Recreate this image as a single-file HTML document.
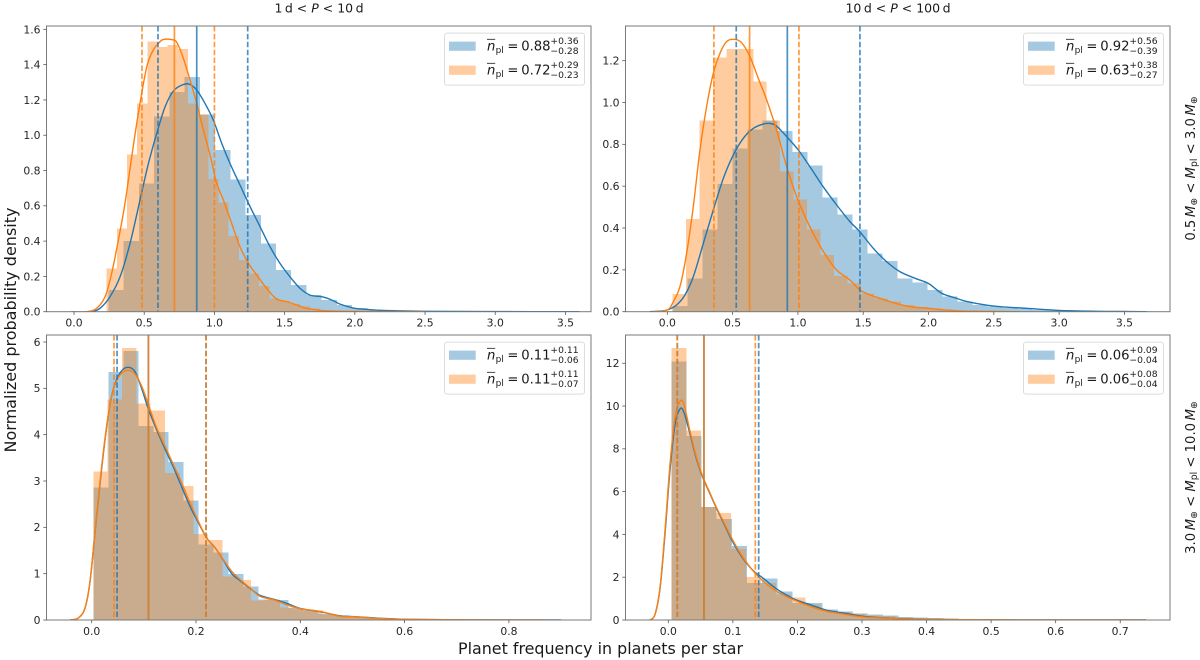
<!DOCTYPE html>
<html lang="en">
<head>
<meta charset="utf-8">
<title>Planet frequency posterior distributions</title>
<style>
html,body{margin:0;padding:0;background:#fff;}
svg{display:block;font-family:"DejaVu Sans","Liberation Sans",sans-serif;}
</style>
</head>
<body>
<svg id="chart" xmlns="http://www.w3.org/2000/svg" width="1200" height="660" viewBox="0 0 1200 660">
  <text transform="translate(16,330) rotate(-90)" text-anchor="middle" font-size="16" fill="#1a1a1a">Normalized probability density</text>
  <text x="600.5" y="654" text-anchor="middle" font-size="15.9" fill="#1a1a1a">Planet frequency in planets per star</text>
  <text x="319" y="12.5" text-anchor="middle" font-size="12.5" fill="#1a1a1a">1&#8201;d &lt; <tspan font-style="italic">P</tspan> &lt; 10&#8201;d</text>
  <text x="898" y="12.5" text-anchor="middle" font-size="12.5" fill="#1a1a1a">10&#8201;d &lt; <tspan font-style="italic">P</tspan> &lt; 100&#8201;d</text>
  <text transform="translate(1195,168.5) rotate(-90)" text-anchor="middle" font-size="13.2" fill="#1a1a1a">0.5&#8201;<tspan font-style="italic">M</tspan><tspan font-size="9.3" dy="2">⊕</tspan><tspan dy="-2"> &lt; </tspan><tspan font-style="italic">M</tspan><tspan font-size="9.3" dy="2">pl</tspan><tspan dy="-2"> &lt; 3.0&#8201;</tspan><tspan font-style="italic">M</tspan><tspan font-size="9.3" dy="2">⊕</tspan></text>
  <text transform="translate(1195,477.5) rotate(-90)" text-anchor="middle" font-size="13.2" fill="#1a1a1a">3.0&#8201;<tspan font-style="italic">M</tspan><tspan font-size="9.3" dy="2">⊕</tspan><tspan dy="-2"> &lt; </tspan><tspan font-style="italic">M</tspan><tspan font-size="9.3" dy="2">pl</tspan><tspan dy="-2"> &lt; 10.0&#8201;</tspan><tspan font-style="italic">M</tspan><tspan font-size="9.3" dy="2">⊕</tspan></text>
</svg>
<script>
// ---------- top-left panel data ----------
const tlBlueHist = [.123,.40,.727,1.105,1.246,1.33,1.118,.916,.75,.548,.387,.236,.151,.094,.066,.038,.02,.013,.008,.005,.003,.002,.001,.001,.0005,.0005,.0003,0,0,.0002];
const tlBlueBin = [.245,.1085];
const tlOrangeHist = [.244,.472,.89,1.18,1.53,1.5,1.51,1.49,1.18,1.118,.752,.618,.43,.293,.217,.145,.076,.06,.045,.03,.018,.01,.006,.003,.002,.001];
const tlOrangeBin = [.233,.0724];
const tlBlueKdeX = [.09,.126,.185,.256,.328,.399,.47,.53,.589,.648,.707,.767,.819,.874,.933,.992,1.052,1.111,1.182,1.254,1.325,1.396,1.467,1.538,1.61,1.681,1.776,1.847,1.895,2.0,2.1,2.2,2.5,3.0,3.6];
const tlBlueKdeY = [0,0,.019,.085,.198,.387,.633,.84,1.01,1.16,1.25,1.284,1.29,1.256,1.18,1.086,.954,.84,.718,.595,.482,.368,.274,.198,.132,.094,.083,.062,.043,.019,.012,.007,.002,.0005,0];
const tlOrangeKdeX = [-.02,.09,.161,.221,.268,.316,.363,.411,.458,.518,.565,.601,.636,.707,.736,.779,.826,.874,.921,.969,1.016,1.064,1.123,1.182,1.242,1.301,1.372,1.443,1.515,1.586,1.657,1.776,2.0,2.3,2.5];
const tlOrangeKdeY = [0,0,.019,.085,.217,.406,.614,.878,1.124,1.388,1.483,1.52,1.543,1.54,1.52,1.435,1.313,1.18,1.03,.888,.727,.633,.5,.368,.274,.208,.132,.072,.057,.038,.019,.006,.002,.0005,0];
const tlBlueQuantiles = [.598,.874,1.237];
const tlOrangeQuantiles = [.484,.715,1.0];
const tlXTicks = [0,.5,1,1.5,2,2.5,3,3.5];
const tlXLabels = ['0.0','0.5','1.0','1.5','2.0','2.5','3.0','3.5'];
const tlYTicks = [0,.2,.4,.6,.8,1,1.2,1.4,1.6];
const tlYLabels = ['0.0','0.2','0.4','0.6','0.8','1.0','1.2','1.4','1.6'];
const tlLegend = [['0.88','+0.36','−0.28'],['0.72','+0.29','−0.23']];

// ---------- top-right panel data ----------
const trBlueHist = [.027,.159,.394,.61,.78,.87,.913,.864,.763,.70,.547,.464,.394,.279,.242,.159,.139,.104,.072,.048,.032,.024,.018,.012,.008,.005,.003,.002,.001,.001];
const trBlueBin = [.041,.1148];
const trOrangeHist = [.084,.443,.913,1.216,1.256,1.256,1.10,.913,.67,.537,.394,.27,.17,.135,.088,.064,.048,.032,.022,.015,.01,.006,.004,.002,.001];
const trOrangeBin = [.041,.1029];
const trBlueKdeX = [-.133,-.056,0,.071,.135,.199,.276,.352,.429,.505,.582,.658,.735,.786,.837,.914,1.003,1.092,1.194,1.297,1.399,1.475,1.577,1.679,1.782,1.9,2.0,2.1,2.2,2.3,2.5,2.75,3.0,3.3,3.5,3.67];
const trBlueKdeY = [0,.003,.008,.032,.08,.167,.327,.486,.637,.749,.829,.876,.897,.9,.887,.837,.773,.693,.597,.51,.43,.382,.303,.239,.191,.159,.135,.088,.067,.048,.027,.016,.006,.002,.001,0];
const trOrangeKdeX = [-.107,0,.046,.097,.148,.199,.25,.301,.352,.403,.454,.51,.569,.633,.697,.761,.837,.914,.99,1.067,1.143,1.22,1.297,1.399,1.475,1.552,1.628,1.73,1.858,2.0,2.2,2.4,2.7];
const trOrangeKdeY = [0,.008,.048,.12,.279,.502,.773,.98,1.139,1.235,1.291,1.302,1.286,1.219,1.115,1.012,.868,.693,.55,.438,.343,.263,.199,.151,.104,.08,.064,.043,.024,.016,.005,.002,0];
const trBlueQuantiles = [.528,.919,1.475];
const trOrangeQuantiles = [.357,.63,1.008];
const trXTicks = [0,.5,1,1.5,2,2.5,3,3.5];
const trXLabels = ['0.0','0.5','1.0','1.5','2.0','2.5','3.0','3.5'];
const trYTicks = [0,.2,.4,.6,.8,1,1.2];
const trYLabels = ['0.0','0.2','0.4','0.6','0.8','1.0','1.2'];
const trLegend = [['0.92','+0.56','−0.39'],['0.63','+0.38','−0.27']];

// ---------- bottom-left panel data ----------
const blBlueHist = [2.863,5.35,5.81,4.19,4.06,3.41,2.576,1.626,1.453,.993,.727,.44,.43,.26,.20,.13,.1,.07,.05,.04,.03,.02,.012,.008,.005,.003,.002,.001,.001,.001];
const blBlueBin = [.0032,.02876];
const blOrangeHist = [3.2,4.76,5.87,4.67,4.52,3.17,2.89,1.856,1.727,.94,.863,.417,.44,.27,.237,.2,.115,.09,.06,.04,.03,.02,.012,.006,.004,.002,.001];
const blOrangeBin = [.0032,.02749];
const blBlueKdeX = [-.0415,-.0256,-.0128,-.0032,.0064,.016,.0256,.035,.0447,.0575,.0703,.0831,.0959,.1087,.1246,.1406,.1566,.1726,.1886,.2045,.2205,.2365,.2525,.2685,.2844,.3036,.3228,.3484,.3739,.3995,.4378,.4762,.5,.55,.6,.7,.9];
const blBlueKdeY = [0,.043,.259,.835,1.9,2.95,3.9,4.65,5.1,5.38,5.453,5.36,4.99,4.55,4.1,3.69,3.3,2.87,2.45,2.1,1.77,1.56,1.29,1.0,.85,.68,.53,.45,.36,.25,.18,.09,.075,.04,.015,.004,0];
const blOrangeKdeX = [-.0415,-.0256,-.0128,-.0032,.0064,.016,.0256,.035,.0447,.0575,.0703,.0831,.0959,.1087,.1246,.1406,.1566,.1726,.1886,.2045,.2205,.2365,.2525,.2685,.2844,.3036,.3228,.3484,.3739,.3995,.4378,.4762,.5,.55,.6,.7,.87];
const blOrangeKdeY = [0,.043,.259,.835,1.914,2.993,3.928,4.647,5.079,5.331,5.388,5.309,5.043,4.647,4.144,3.748,3.353,2.957,2.525,2.129,1.77,1.554,1.302,1.05,.871,.691,.511,.439,.331,.245,.187,.079,.07,.035,.015,.004,0];
const blBlueQuantiles = [.0486,.1087,.2192];
const blOrangeQuantiles = [.0428,.1087,.2192];
const blXTicks = [0,.2,.4,.6,.8];
const blXLabels = ['0.0','0.2','0.4','0.6','0.8'];
const blYTicks = [0,1,2,3,4,5,6];
const blYLabels = ['0','1','2','3','4','5','6'];
const blLegend = [['0.11','+0.11','−0.06'],['0.11','+0.11','−0.07']];

// ---------- bottom-right panel data ----------
const brBlueHist = [12.09,8.6,5.28,4.72,3.46,1.73,1.93,1.34,.79,.79,.48,.4,.3,.25,.2,.15,.12,.09,.06,.04,.03,.02,.012,.008,.005,.003,.002,.001,.001,.001];
const brBlueBin = [.00471,.02344];
const brOrangeHist = [12.72,8.85,5.28,5.0,3.33,2.01,1.73,1.2,1.06,.72,.44,.38,.3,.22,.18,.12,.08,.06,.04,.03,.02,.012,.008,.004,.002,.001];
const brOrangeBin = [.00471,.02313];
const brBlueKdeX = [-.0284,-.0207,-.0129,-.0052,.0026,.0103,.0181,.0243,.0336,.0439,.0542,.0645,.0749,.0878,.1007,.1162,.1317,.1471,.1678,.1936,.2194,.2453,.2711,.302,.333,.364,.4,.45,.5,.6,.74];
const brBlueKdeY = [0,.249,1.45,4.0,7.0,9.1,9.86,9.7,8.7,7.5,6.6,5.9,5.2,4.4,3.6,2.85,2.3,1.95,1.45,1.0,.72,.46,.33,.17,.1,.06,.035,.015,.006,.002,0];
const brOrangeKdeX = [-.0284,-.0207,-.0129,-.0052,.0026,.0103,.0181,.0243,.0336,.0439,.0542,.0645,.0749,.0878,.1007,.1162,.1317,.1471,.1678,.1936,.2194,.2453,.2711,.302,.333,.364,.4,.45,.5,.6,.74];
const brOrangeKdeY = [0,.249,1.496,4.145,7.262,9.444,10.22,10.07,8.82,7.57,6.64,5.94,5.24,4.46,3.68,2.9,2.28,1.81,1.34,.95,.64,.405,.28,.14,.09,.05,.03,.015,.006,.002,0];
const brBlueQuantiles = [.0139,.0552,.14];
const brOrangeQuantiles = [.0139,.0552,.1348];
const brXTicks = [0,.1,.2,.3,.4,.5,.6,.7];
const brXLabels = ['0.0','0.1','0.2','0.3','0.4','0.5','0.6','0.7'];
const brYTicks = [0,2,4,6,8,10,12];
const brYLabels = ['0','2','4','6','8','10','12'];
const brLegend = [['0.06','+0.09','−0.04'],['0.06','+0.08','−0.04']];

// ---------- rendering ----------
const BLUE = '#1f77b4', ORANGE = '#ff7f0e', SVGNS = 'http://www.w3.org/2000/svg';
const root = document.getElementById('chart');

function mk(tag, attrs, parent) {
  const el = document.createElementNS(SVGNS, tag);
  for (const k in attrs) el.setAttribute(k, attrs[k]);
  parent.appendChild(el);
  return el;
}

function smoothPath(pts) {
  let d = 'M' + pts[0][0].toFixed(2) + ' ' + pts[0][1].toFixed(2);
  for (let i = 0; i < pts.length - 1; i++) {
    const p0 = pts[Math.max(0, i - 1)], p1 = pts[i], p2 = pts[i + 1], p3 = pts[Math.min(pts.length - 1, i + 2)];
    const c1x = p1[0] + (p2[0] - p0[0]) / 6, c1y = p1[1] + (p2[1] - p0[1]) / 6;
    const c2x = p2[0] - (p3[0] - p1[0]) / 6, c2y = p2[1] - (p3[1] - p1[1]) / 6;
    d += 'C' + c1x.toFixed(2) + ' ' + c1y.toFixed(2) + ' ' + c2x.toFixed(2) + ' ' + c2y.toFixed(2) + ' ' + p2[0].toFixed(2) + ' ' + p2[1].toFixed(2);
  }
  return d;
}

function drawHist(g, vals, bin, color, sx, sy, baseY, label) {
  vals.forEach(function (v, i) {
    const x0 = sx(bin[0] + i * bin[1]), x1 = sx(bin[0] + (i + 1) * bin[1]), yT = sy(v);
    const r = mk('rect', {x: x0, y: yT, width: x1 - x0, height: baseY - yT, fill: color, 'fill-opacity': .4, 'shape-rendering': 'crispEdges'}, g);
    
    
  });
}

function drawKde(g, xs, ys, color, sx, sy, label) {
  const pts = xs.map(function (x, i) { return [sx(x), sy(ys[i])]; });
  const p = mk('path', {d: smoothPath(pts), fill: 'none', stroke: color, 'stroke-width': 1.4}, g);
  
  
}

function drawQuantiles(g, q, color, sx, top, bottom, label) {
  q.forEach(function (v, i) {
    const attrs = {x1: sx(v), x2: sx(v), y1: top, y2: bottom, stroke: color, 'stroke-width': 1.7, 'stroke-opacity': .8};
    if (i !== 1) attrs['stroke-dasharray'] = '5.5 2.4';
    const l = mk('line', attrs, g);
    
    
  });
}

function drawLegend(g, entries, box) {
  const frame = mk('rect', {x: box.x + .5, y: box.y + .5, width: box.w, height: box.h, rx: 2.5, fill: '#fff', 'fill-opacity': .85, stroke: '#dcdcdc', 'stroke-width': 1}, g);
  
  
  entries.forEach(function (e, i) {
    const color = i === 0 ? BLUE : ORANGE;
    const off = i * 24;
    const col = mk('g', {}, g);
    
    
    mk('rect', {x: box.x + 5, y: box.y + 9 + off, width: 26.7, height: 9.2, fill: color, 'fill-opacity': .4}, col);
    const tx = box.x + 43, base = box.y + 18 + off;
    const t = mk('text', {x: tx, y: base, 'font-size': 13.2, 'font-style': 'italic', fill: '#1a1a1a'}, col);
    t.textContent = 'n';
    mk('line', {x1: tx, x2: tx + 8.2, y1: base - 11.3, y2: base - 11.3, stroke: '#1a1a1a', 'stroke-width': .8}, col);
    const pl = mk('text', {x: tx + 8.6, y: base + 2.3, 'font-size': 9, fill: '#1a1a1a'}, col);
    pl.textContent = 'pl';
    const eq = mk('text', {x: tx + 20.4, y: base, 'font-size': 13.2, fill: '#1a1a1a'}, col);
    eq.textContent = '=';
    const val = mk('text', {x: tx + 34.2, y: base, 'font-size': 13.2, fill: '#1a1a1a'}, col);
    val.textContent = e[0];
    const up = mk('text', {x: tx + 63.4, y: base - 6.6, 'font-size': 9.2, fill: '#1a1a1a'}, col);
    up.textContent = e[1];
    const lo = mk('text', {x: tx + 63.4, y: base + 3.4, 'font-size': 9.2, fill: '#1a1a1a'}, col);
    lo.textContent = e[2];
  });
}

const panels = [
  {id: 'top-left', left: 46.5, right: 591, top: 26, bottom: 311.7, xd: [-.196, 3.682], ymax: 1.619,
   bh: tlBlueHist, bb: tlBlueBin, oh: tlOrangeHist, ob: tlOrangeBin, bkx: tlBlueKdeX, bky: tlBlueKdeY, okx: tlOrangeKdeX, oky: tlOrangeKdeY,
   bq: tlBlueQuantiles, oq: tlOrangeQuantiles, xt: tlXTicks, xl: tlXLabels, yt: tlYTicks, yl: tlYLabels, legend: tlLegend},
  {id: 'top-right', left: 625.5, right: 1170, top: 26, bottom: 311.7, xd: [-.32, 3.849], ymax: 1.3657,
   bh: trBlueHist, bb: trBlueBin, oh: trOrangeHist, ob: trOrangeBin, bkx: trBlueKdeX, bky: trBlueKdeY, okx: trOrangeKdeX, oky: trOrangeKdeY,
   bq: trBlueQuantiles, oq: trOrangeQuantiles, xt: trXTicks, xl: trXLabels, yt: trYTicks, yl: trYLabels, legend: trLegend},
  {id: 'bottom-left', left: 46.5, right: 591, top: 335, bottom: 620, xd: [-.0867, .9574], ymax: 6.151,
   bh: blBlueHist, bb: blBlueBin, oh: blOrangeHist, ob: blOrangeBin, bkx: blBlueKdeX, bky: blBlueKdeY, okx: blOrangeKdeX, oky: blOrangeKdeY,
   bq: blBlueQuantiles, oq: blOrangeQuantiles, xt: blXTicks, xl: blXLabels, yt: blYTicks, yl: blYLabels, legend: blLegend},
  {id: 'bottom-right', left: 625.5, right: 1170, top: 335, bottom: 620, xd: [-.0663, .7771], ymax: 13.32,
   bh: brBlueHist, bb: brBlueBin, oh: brOrangeHist, ob: brOrangeBin, bkx: brBlueKdeX, bky: brBlueKdeY, okx: brOrangeKdeX, oky: brOrangeKdeY,
   bq: brBlueQuantiles, oq: brOrangeQuantiles, xt: brXTicks, xl: brXLabels, yt: brYTicks, yl: brYLabels, legend: brLegend}
];

const defs = mk('defs', {}, root);

panels.forEach(function (p) {
  const sx = function (v) { return p.left + (v - p.xd[0]) / (p.xd[1] - p.xd[0]) * (p.right - p.left); };
  const sy = function (v) { return p.bottom - v / p.ymax * (p.bottom - p.top); };

  const clip = mk('clipPath', {id: 'clip-' + p.id}, defs);
  mk('rect', {x: p.left, y: p.top, width: p.right - p.left, height: p.bottom - p.top}, clip);

  const g = mk('g', {}, root);
  
  

  const plot = mk('g', {'clip-path': 'url(#clip-' + p.id + ')'}, g);
  
  

  drawHist(plot, p.bh, p.bb, BLUE, sx, sy, p.bottom, 'blue-histogram');
  drawHist(plot, p.oh, p.ob, ORANGE, sx, sy, p.bottom, 'orange-histogram');
  drawKde(plot, p.bkx, p.bky, BLUE, sx, sy, 'blue');
  drawKde(plot, p.okx, p.oky, ORANGE, sx, sy, 'orange');
  drawQuantiles(plot, p.bq, BLUE, sx, p.top, p.bottom, 'blue');
  drawQuantiles(plot, p.oq, ORANGE, sx, p.top, p.bottom, 'orange');

  const frame = mk('rect', {x: p.left, y: p.top, width: p.right - p.left, height: p.bottom - p.top, fill: 'none', stroke: '#7a7a7a', 'stroke-width': 1}, g);
  
  

  p.xt.forEach(function (v, i) {
    const tick = mk('line', {x1: sx(v), x2: sx(v), y1: p.bottom, y2: p.bottom + 3.2, stroke: '#555', 'stroke-width': .8}, g);
    
    
    const lab = mk('text', {x: sx(v), y: p.bottom + 15, 'text-anchor': 'middle', 'font-size': 10.8, fill: '#262626'}, g);
    lab.textContent = p.xl[i];
    
    
  });
  p.yt.forEach(function (v, i) {
    const tick = mk('line', {x1: p.left - 3.2, x2: p.left, y1: sy(v), y2: sy(v), stroke: '#555', 'stroke-width': .8}, g);
    
    
    const lab = mk('text', {x: p.left - 6, y: sy(v) + 3.9, 'text-anchor': 'end', 'font-size': 10.8, fill: '#262626'}, g);
    lab.textContent = p.yl[i];
    
    
  });

  const lg = mk('g', {}, g);
  
  
  drawLegend(lg, p.legend, {x: p.right - 147, y: p.top + 6.6, w: 140, h: 52});
});
</script>
</body>
</html>
